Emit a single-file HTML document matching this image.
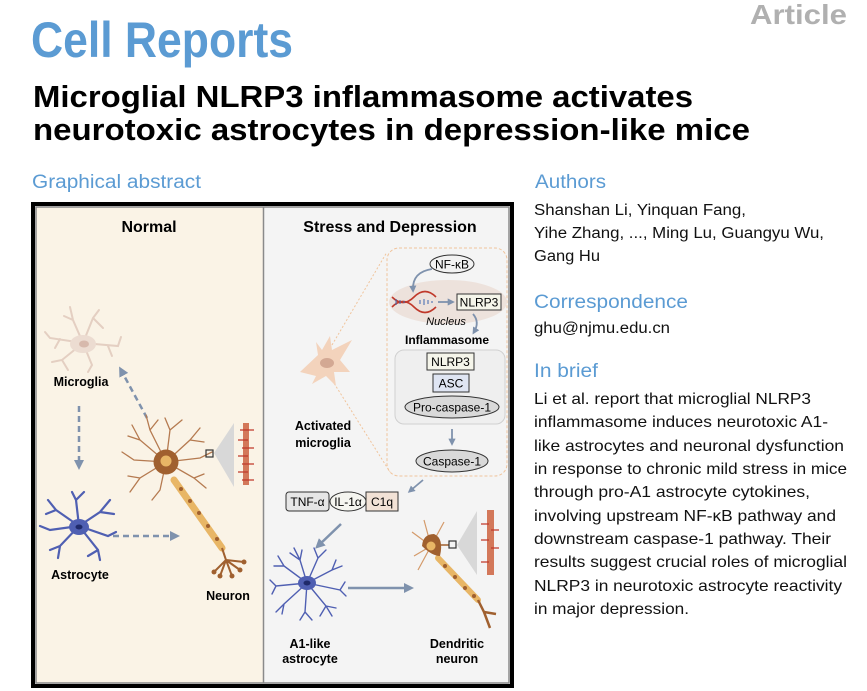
<!DOCTYPE html>
<html><head><meta charset="utf-8"><style>
html,body{margin:0;padding:0;background:#fff;}
svg{display:block;}
text{font-family:"Liberation Sans",Arial,sans-serif;}
</style></head><body>
<svg width="867" height="691" viewBox="0 0 867 691" xmlns="http://www.w3.org/2000/svg">
<defs>
<marker id="ah" viewBox="0 0 10 10" refX="6" refY="5" markerWidth="4" markerHeight="4" orient="auto"><path d="M0,0 L10,5 L0,10 z" fill="#7f92ad"/></marker>
</defs>
<!-- header -->
<text x="847" y="24" text-anchor="end" font-size="28" font-weight="bold" fill="#b0b0b0" textLength="97" lengthAdjust="spacingAndGlyphs">Article</text>
<text x="31" y="57" font-size="50" font-weight="bold" fill="#5b9bd3" textLength="262" lengthAdjust="spacingAndGlyphs">Cell Reports</text>
<text x="33" y="107" font-size="31" font-weight="bold" fill="#000" textLength="660" lengthAdjust="spacingAndGlyphs">Microglial NLRP3 inflammasome activates</text>
<text x="33" y="140" font-size="31" font-weight="bold" fill="#000" textLength="717" lengthAdjust="spacingAndGlyphs">neurotoxic astrocytes in depression-like mice</text>
<text x="32" y="188" font-size="19" fill="#5b9bd3" textLength="169" lengthAdjust="spacingAndGlyphs">Graphical abstract</text>
<text x="535" y="188" font-size="19" fill="#5b9bd3" textLength="71" lengthAdjust="spacingAndGlyphs">Authors</text>
<!-- right column -->
<g font-size="15.5" fill="#111">
<text x="534" y="215" textLength="212" lengthAdjust="spacingAndGlyphs">Shanshan Li, Yinquan Fang,</text>
<text x="534" y="238" textLength="290" lengthAdjust="spacingAndGlyphs">Yihe Zhang, ..., Ming Lu, Guangyu Wu,</text>
<text x="534" y="261" textLength="66" lengthAdjust="spacingAndGlyphs">Gang Hu</text>
<text x="534" y="333" textLength="136" lengthAdjust="spacingAndGlyphs">ghu@njmu.edu.cn</text>
</g>
<text x="534" y="308" font-size="19" fill="#5b9bd3" textLength="154" lengthAdjust="spacingAndGlyphs">Correspondence</text>
<text x="534" y="377" font-size="19" fill="#5b9bd3" textLength="64" lengthAdjust="spacingAndGlyphs">In brief</text>
<g font-size="16" fill="#111">
<text x="534" y="404" textLength="277" lengthAdjust="spacingAndGlyphs">Li et al. report that microglial NLRP3</text>
<text x="534" y="427" textLength="294" lengthAdjust="spacingAndGlyphs">inflammasome induces neurotoxic A1-</text>
<text x="534" y="451" textLength="310" lengthAdjust="spacingAndGlyphs">like astrocytes and neuronal dysfunction</text>
<text x="534" y="474" textLength="313" lengthAdjust="spacingAndGlyphs">in response to chronic mild stress in mice</text>
<text x="534" y="497" textLength="276" lengthAdjust="spacingAndGlyphs">through pro-A1 astrocyte cytokines,</text>
<text x="534" y="521" textLength="302" lengthAdjust="spacingAndGlyphs">involving upstream NF-κB pathway and</text>
<text x="534" y="544" textLength="297" lengthAdjust="spacingAndGlyphs">downstream caspase-1 pathway. Their</text>
<text x="534" y="567" textLength="313" lengthAdjust="spacingAndGlyphs">results suggest crucial roles of microglial</text>
<text x="534" y="591" textLength="308" lengthAdjust="spacingAndGlyphs">NLRP3 in neurotoxic astrocyte reactivity</text>
<text x="534" y="614" textLength="155" lengthAdjust="spacingAndGlyphs">in major depression.</text>
</g>

<!-- figure frame -->
<rect x="33" y="204" width="479" height="482" fill="#f4f4f4" stroke="#000" stroke-width="4"/>
<rect x="36" y="207" width="227" height="476" fill="#faf3e6"/>
<rect x="36" y="207" width="473" height="476" fill="none" stroke="#8a8a8a" stroke-width="1.5"/>
<line x1="263.5" y1="207" x2="263.5" y2="683" stroke="#8a8a8a" stroke-width="1.5"/>

<text x="149" y="232" text-anchor="middle" font-size="16" font-weight="bold">Normal</text>
<text x="390" y="232" text-anchor="middle" font-size="16" font-weight="bold">Stress and Depression</text>

<!-- LEFT PANEL -->
<g stroke="#e4cfc2" stroke-width="2" fill="none" stroke-linecap="round">
<path d="M83,343 L50,338 L45,332 M60,339 L55,348 M83,343 L73,320 L70,307 M73,320 L64,316 M83,343 L93,318 L99,310 M93,318 L103,328 M83,343 L118,346 L121,337 M108,346 L112,356 M83,343 L92,365 L88,372 M83,343 L62,360 L52,362 M62,360 L68,370"/>
</g>
<ellipse cx="83" cy="344" rx="13" ry="9" fill="#ecdcd1"/>
<ellipse cx="84" cy="344" rx="5" ry="3.5" fill="#d7b9ac"/>
<text x="81" y="386" text-anchor="middle" font-size="12.5" font-weight="bold">Microglia</text>
<line x1="79" y1="406" x2="79" y2="466" stroke="#7f92ad" stroke-width="2.5" stroke-dasharray="6,4" marker-end="url(#ah)"/>
<line x1="147" y1="418" x2="121" y2="370" stroke="#7f92ad" stroke-width="2.5" stroke-dasharray="6,4" marker-end="url(#ah)"/>
<line x1="113" y1="536" x2="176" y2="536" stroke="#7f92ad" stroke-width="2.5" stroke-dasharray="6,4" marker-end="url(#ah)"/>
<g stroke="#4f5fb2" stroke-width="2.2" fill="none" stroke-linecap="round">
<path d="M79,526 L56,510 L48,500 M56,510 L46,514 M79,526 L76,500 L72,492 M76,500 L84,492 M79,526 L100,512 L110,500 M100,512 L114,514 M79,526 L108,536 L116,532 M79,526 L98,550 L100,560 M98,550 L88,556 M79,526 L60,546 L50,550 M60,546 L58,558 M79,526 L50,530 L40,526"/>
</g>
<ellipse cx="79" cy="527" rx="10" ry="8" fill="#4f5fb2"/>
<ellipse cx="79" cy="527" rx="3.5" ry="2.5" fill="#1f2a6a"/>
<text x="80" y="579" text-anchor="middle" font-size="12.5" font-weight="bold">Astrocyte</text>
<g stroke="#b57a50" stroke-width="1.3" fill="none" stroke-linecap="round">
<path d="M166,462 L140,440 L132,425 M140,440 L128,436 M166,462 L150,430 L146,415 M150,430 L158,420 M166,462 L170,430 L165,418 M170,430 L182,420 M166,462 L190,440 L200,428 M190,440 L204,442 M166,462 L200,458 L212,452 M166,462 L194,478 L206,488 M194,478 L204,474 M166,462 L140,478 L130,492 M140,478 L128,476 M166,462 L134,460 L122,452 M166,462 L160,490 L152,500"/>
</g>
<g stroke="#e8b666" stroke-width="7" stroke-linecap="round"><line x1="174" y1="480" x2="222" y2="548"/></g>
<g fill="#a0602f"><circle cx="181" cy="489" r="2"/><circle cx="190" cy="501" r="2"/><circle cx="199" cy="513" r="2"/><circle cx="208" cy="526" r="2"/><circle cx="217" cy="539" r="2"/></g>
<g stroke="#a0602f" stroke-width="2" fill="none"><path d="M222,548 L226,560 L214,572 M226,560 L220,576 M226,560 L232,576 M226,560 L240,570 M226,560 L244,562"/></g>
<g fill="#a0602f"><circle cx="214" cy="572" r="2.5"/><circle cx="220" cy="576" r="2.5"/><circle cx="232" cy="576" r="2.5"/><circle cx="240" cy="570" r="2.5"/><circle cx="244" cy="562" r="2.5"/></g>
<circle cx="166" cy="462" r="12.5" fill="#a0602f"/>
<circle cx="166" cy="461" r="5.5" fill="#e8b666"/>
<rect x="206" y="450" width="7" height="7" fill="none" stroke="#333" stroke-width="1.2"/>
<polygon points="214,453 234,423 234,487" fill="#d8d8d8"/>
<rect x="243" y="423" width="6" height="62" fill="#d3785a"/>
<g stroke="#c0392b" stroke-width="1.2"><path d="M240,430h14M238,440h10M242,448h12M238,456h10M242,464h12M238,472h10M242,480h12"/></g>
<text x="228" y="600" text-anchor="middle" font-size="12.5" font-weight="bold">Neuron</text>

<!-- RIGHT PANEL -->
<rect x="387" y="248" width="120" height="228" rx="12" fill="none" stroke="#f0c49c" stroke-width="1" stroke-dasharray="3,2"/>
<line x1="332" y1="345" x2="387" y2="252" stroke="#f0c49c" stroke-width="1" stroke-dasharray="2,2"/>
<line x1="332" y1="380" x2="390" y2="472" stroke="#f0c49c" stroke-width="1" stroke-dasharray="2,2"/>
<path d="M300,372 L318,355 L316,342 L322,350 L330,336 L332,350 L352,340 L340,360 L350,372 L334,372 L336,386 L326,376 L312,384 L316,376 Z" fill="#f3d3bc"/>
<ellipse cx="327" cy="363" rx="7" ry="5" fill="#d3a893"/>
<text x="323" y="430" text-anchor="middle" font-size="12.5" font-weight="bold">Activated</text>
<text x="323" y="447" text-anchor="middle" font-size="12.5" font-weight="bold">microglia</text>
<ellipse cx="448" cy="302" rx="59" ry="22" fill="#ede2dc"/>
<ellipse cx="452" cy="264" rx="22" ry="9" fill="#f2f2f2" stroke="#333" stroke-width="1"/>
<text x="452" y="268.5" text-anchor="middle" font-size="12">NF-κB</text>
<path d="M432,269 Q412,272 413,290" fill="none" stroke="#7f92ad" stroke-width="1.8" marker-end="url(#ah)"/>
<path d="M392,297 Q403,308 414,297 T436,297 M392,307 Q403,296 414,307 T436,307" fill="none" stroke="#c0392b" stroke-width="1.6"/>
<g stroke="#3a66b0" stroke-width="1"><path d="M396,299v6M400,300v4M404,301v2M420,300v4M424,299v6M428,300v4M432,301v2"/></g>
<line x1="438" y1="302" x2="452" y2="302" stroke="#7f92ad" stroke-width="1.8" marker-end="url(#ah)"/>
<rect x="457" y="294" width="44" height="16" fill="#f5f5ea" stroke="#333" stroke-width="1"/>
<text x="479" y="306.5" text-anchor="middle" font-size="12">NLRP3</text>
<text x="446" y="325" text-anchor="middle" font-size="11" font-style="italic">Nucleus</text>
<path d="M473,314 Q480,322 474,332" fill="none" stroke="#7f92ad" stroke-width="1.8" marker-end="url(#ah)"/>
<text x="447" y="344" text-anchor="middle" font-size="12" font-weight="bold">Inflammasome</text>
<rect x="395" y="350" width="110" height="74" rx="9" fill="#efefef" stroke="#d0d0d0" stroke-width="1"/>
<rect x="427" y="353" width="47" height="17" fill="#f5f5ea" stroke="#333" stroke-width="1"/>
<text x="450.5" y="366" text-anchor="middle" font-size="12">NLRP3</text>
<rect x="433" y="374" width="36" height="18" fill="#dfe5f3" stroke="#333" stroke-width="1"/>
<text x="451" y="387.5" text-anchor="middle" font-size="12">ASC</text>
<ellipse cx="452" cy="407" rx="47" ry="11" fill="#d9d9d9" stroke="#333" stroke-width="1"/>
<text x="452" y="411.5" text-anchor="middle" font-size="12">Pro-caspase-1</text>
<line x1="452" y1="429" x2="452" y2="443" stroke="#7f92ad" stroke-width="1.8" marker-end="url(#ah)"/>
<ellipse cx="452" cy="461" rx="36" ry="11" fill="#d9d9d9" stroke="#333" stroke-width="1"/>
<text x="452" y="465.5" text-anchor="middle" font-size="12">Caspase-1</text>
<line x1="423" y1="480" x2="410" y2="491" stroke="#7f92ad" stroke-width="1.8" marker-end="url(#ah)"/>
<rect x="286" y="492" width="43" height="19" rx="3" fill="#e6e6e6" stroke="#333" stroke-width="1"/>
<text x="307.5" y="506" text-anchor="middle" font-size="12">TNF-α</text>
<ellipse cx="348" cy="501.5" rx="18" ry="9.5" fill="#f5f5f0" stroke="#333" stroke-width="1"/>
<text x="348" y="506" text-anchor="middle" font-size="12">IL-1α</text>
<rect x="366" y="492" width="32" height="19" fill="#f2e2d6" stroke="#333" stroke-width="1"/>
<text x="382" y="506" text-anchor="middle" font-size="12">C1q</text>
<line x1="341" y1="524" x2="318" y2="546" stroke="#7f92ad" stroke-width="2.5" marker-end="url(#ah)"/>
<g stroke="#4f5fb2" stroke-width="1.4" fill="none" stroke-linecap="round">
<path d="M307,583 L300,560 L290,553 M300,560 L302,550 M307,583 L318,558 L326,550 M318,558 L314,548 M307,583 L332,570 L342,566 M332,570 L336,560 M307,583 L340,590 L346,596 M340,590 L345,582 M307,583 L326,606 L332,616 M326,606 L320,616 M307,583 L305,612 L300,620 M305,612 L312,620 M307,583 L284,604 L276,612 M284,604 L282,614 M307,583 L276,586 L270,580 M276,586 L272,594 M307,583 L284,566 L278,556 M284,566 L274,566 M300,560 L294,548 M326,606 L336,608"/>
</g>
<ellipse cx="307" cy="583" rx="9" ry="7" fill="#4f5fb2"/>
<ellipse cx="307" cy="583" rx="3.5" ry="2.5" fill="#1f2a6a"/>
<text x="310" y="648" text-anchor="middle" font-size="12.5" font-weight="bold">A1-like</text>
<text x="310" y="663" text-anchor="middle" font-size="12.5" font-weight="bold">astrocyte</text>
<line x1="348" y1="588" x2="410" y2="588" stroke="#7f92ad" stroke-width="2.5" marker-end="url(#ah)"/>
<g stroke="#d49a6a" stroke-width="1.2" fill="none"><path d="M431,546 L412,532 M431,546 L414,556 M431,546 L424,520 M431,546 L444,522 M431,546 L418,570"/></g>
<g stroke="#e8b666" stroke-width="6" stroke-linecap="round"><line x1="438" y1="558" x2="478" y2="600"/></g>
<g fill="#a0602f"><circle cx="445" cy="566" r="2"/><circle cx="455" cy="577" r="2"/><circle cx="465" cy="588" r="2"/><circle cx="474" cy="596" r="2"/></g>
<g stroke="#a0602f" stroke-width="2.5" fill="none"><path d="M478,600 L484,612 L496,614 M484,612 L490,628"/></g>
<path d="M422,546 Q423,534 434,534 Q444,538 440,556 Q432,556 422,546 Z" fill="#a0602f"/>
<circle cx="431" cy="546" r="4.5" fill="#e8b666"/>
<line x1="440" y1="545" x2="449" y2="545" stroke="#a0602f" stroke-width="1.5"/>
<rect x="449" y="541" width="7" height="7" fill="none" stroke="#333" stroke-width="1.2"/>
<polygon points="457,545 477,511 477,575" fill="#d8d8d8"/>
<rect x="487" y="510" width="7" height="65" fill="#d3785a"/>
<g stroke="#c0392b" stroke-width="1.2"><path d="M481,524h8M491,530h8M481,540h8M491,548h8M481,562h8"/></g>
<text x="457" y="648" text-anchor="middle" font-size="12.5" font-weight="bold">Dendritic</text>
<text x="457" y="663" text-anchor="middle" font-size="12.5" font-weight="bold">neuron</text>
</svg>
</body></html>
